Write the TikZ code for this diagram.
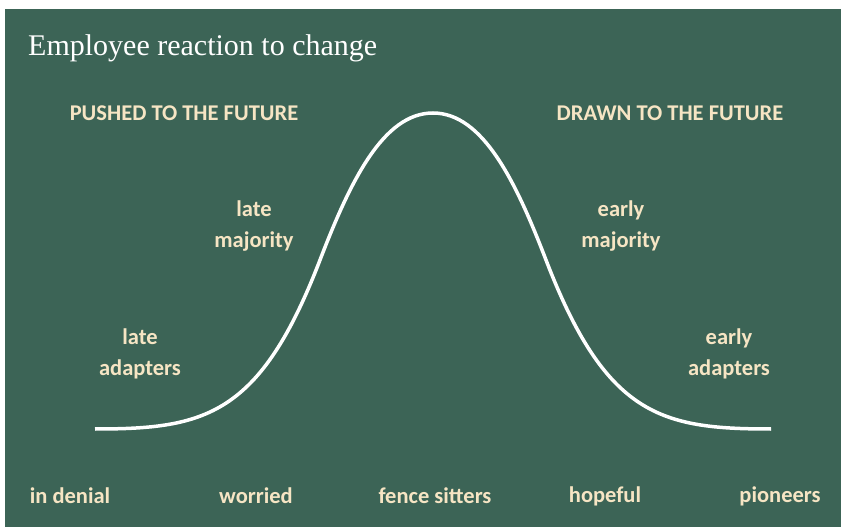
\documentclass[tikz,border=0pt]{standalone}
\usepackage{fontspec}
\setmainfont{Liberation Serif}
\newfontfamily\labfont{Carlito}
\definecolor{bggreen}{RGB}{60,100,86}
\definecolor{cream}{RGB}{246,229,196}
\begin{document}
\begin{tikzpicture}[x=1pt,y=-1pt,
  lab/.style={text=cream,font=\labfont\bfseries\fontsize{22.5}{31}\selectfont,align=center,inner sep=0pt},
  head/.style={text=cream,font=\labfont\bfseries\fontsize{22.5}{26}\selectfont,inner sep=0pt},
  titl/.style={text=white,font=\fontsize{30}{33}\selectfont,inner sep=0pt,anchor=west}]
\useasboundingbox (0,0) rectangle (841,529);
\fill[white] (0,0) rectangle (841,529);
\fill[bggreen] (5,9) rectangle (841,527);
\node[titl] (title) at (28,48) {Employee reaction to change};
\node[head] (pushed) at (184,113) {PUSHED TO THE FUTURE};
\node[head] (drawn) at (670,113) {DRAWN TO THE FUTURE};
\node[lab] (latemaj) at (254,226) {late\\majority};
\node[lab] (earlymaj) at (621,226) {early\\majority};
\node[lab] (lateadp) at (140,354) {late\\adapters};
\node[lab] (earlyadp) at (729,354) {early\\adapters};
\node[lab] (denial) at (70,496) {in denial};
\node[lab] (worried) at (256,496) {worried};
\node[lab] (fence) at (435,496) {fence sitters};
\node[lab] (hopeful) at (605,496) {hopeful};
\node[lab] (pioneers) at (780,496) {pioneers};
\coordinate (cl) at (95,429);
\coordinate (il) at (320,260);
\coordinate (top) at (433,113);
\coordinate (ir) at (546,260);
\coordinate (cr) at (771,429);
\draw[white,line width=3.5pt]
  (cl) .. controls (205,429) and (260,416) .. (il)
       .. controls (350,182) and (383,113) .. (top)
       .. controls (483,113) and (516,182) .. (ir)
       .. controls (606,416) and (661,429) .. (cr);
\end{tikzpicture}
\end{document}
